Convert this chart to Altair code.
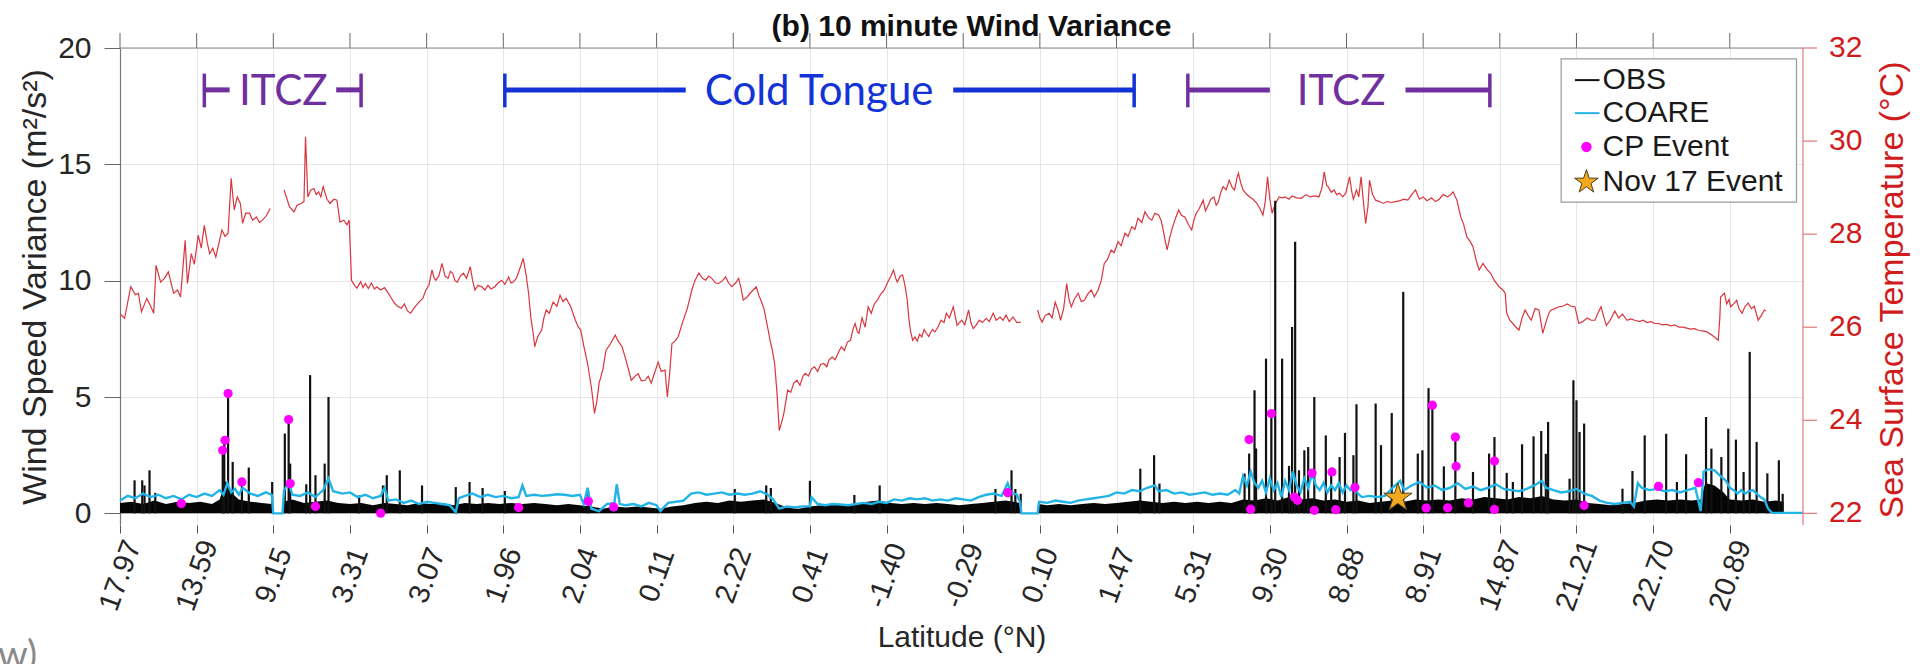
import json
import altair as alt
import pandas as pd

# ---------------------------------------------------------------------------
# Along-track position is expressed in "tick units": one unit per labelled tick.
# ---------------------------------------------------------------------------
lat_labels = ["17.97", "13.59", "9.15", "3.31", "3.07", "1.96", "2.04", "0.11",
              "2.22", "0.41", "-1.40", "-0.29", "0.10", "1.47", "5.31", "9.30",
              "8.88", "8.91", "14.87", "21.21", "22.70", "20.89"]
x_max = 21.955

# Sea surface temperature (°C); breaks mark data gaps
sst_x = [0.00, 0.06, 0.14, 0.20, 0.24, 0.28, 0.35, 0.40, 0.44, 0.47, 0.53, 0.58, 0.63, 0.70, 0.75, 0.79,
         0.85, 0.88, 0.93, 0.97, 1.02, 1.06, 1.10, 1.14, 1.17, 1.21, 1.25, 1.29, 1.33, 1.37, 1.41, 1.45,
         1.49, 1.53, 1.57, 1.60, 1.64, 1.69, 1.73, 1.78, 1.82, 1.86, 1.91, 1.96,
         2.14, 2.18, 2.21, 2.27, 2.31, 2.36, 2.40, 2.42, 2.45, 2.49, 2.53, 2.56, 2.59, 2.62, 2.65, 2.70,
         2.74, 2.79, 2.83, 2.87, 2.92, 2.96, 2.99, 3.02, 3.06, 3.09, 3.14, 3.17, 3.20, 3.24, 3.28, 3.32,
         3.35, 3.40, 3.45, 3.49, 3.53, 3.58, 3.62, 3.67, 3.71, 3.75, 3.79, 3.84, 3.90, 3.95, 3.99, 4.03,
         4.07, 4.10, 4.12, 4.16, 4.20, 4.24, 4.28, 4.31, 4.34, 4.37, 4.40, 4.44, 4.48, 4.52, 4.57, 4.60,
         4.63, 4.67, 4.72, 4.76, 4.80, 4.84, 4.89, 4.93, 4.98, 5.02, 5.07, 5.10, 5.13, 5.17, 5.21, 5.26,
         5.30, 5.33, 5.36, 5.39, 5.41, 5.45, 5.50, 5.53, 5.56, 5.60, 5.65, 5.70, 5.74, 5.78, 5.82, 5.88,
         5.94, 5.98, 6.01, 6.05, 6.10, 6.15, 6.19, 6.22, 6.25, 6.30, 6.34, 6.40, 6.46, 6.50, 6.55, 6.60,
         6.67, 6.72, 6.76, 6.80, 6.85, 6.89, 6.93, 6.97, 7.02, 7.06, 7.11, 7.14, 7.17, 7.20, 7.24, 7.28,
         7.34, 7.40, 7.46, 7.50, 7.55, 7.60, 7.64, 7.68, 7.72, 7.77, 7.81, 7.86, 7.90, 7.94, 7.98, 8.03,
         8.07, 8.10, 8.13, 8.18, 8.22, 8.26, 8.30, 8.33, 8.36, 8.40, 8.43, 8.46, 8.48, 8.51, 8.54, 8.57,
         8.60, 8.63, 8.66, 8.69, 8.71, 8.75, 8.79, 8.83, 8.87, 8.91, 8.94, 8.98, 9.02, 9.06, 9.10, 9.14,
         9.18, 9.22, 9.25, 9.29, 9.33, 9.37, 9.41, 9.45, 9.49, 9.53, 9.56, 9.59, 9.62, 9.64, 9.68, 9.72,
         9.76, 9.80, 9.84, 9.88, 9.92, 9.97, 10.01, 10.05, 10.09, 10.12, 10.14, 10.18, 10.21, 10.24, 10.27, 10.29,
         10.31, 10.34, 10.37, 10.40, 10.43, 10.46, 10.49, 10.52, 10.55, 10.57, 10.60, 10.63, 10.67, 10.71, 10.75, 10.78,
         10.82, 10.87, 10.90, 10.92, 10.95, 10.98, 11.02, 11.07, 11.10, 11.13, 11.17, 11.21, 11.25, 11.30, 11.34, 11.39,
         11.43, 11.48, 11.52, 11.56, 11.60, 11.65, 11.70, 11.75,
         11.97, 12.00, 12.03, 12.07, 12.12, 12.16, 12.20, 12.24, 12.27, 12.31, 12.35, 12.38, 12.41, 12.45, 12.50, 12.54,
         12.58, 12.62, 12.67, 12.71, 12.76, 12.80, 12.84, 12.88, 12.93, 12.97, 13.02, 13.06, 13.11, 13.15, 13.20, 13.24,
         13.28, 13.33, 13.37, 13.42, 13.46, 13.50, 13.55, 13.58, 13.60, 13.63, 13.66, 13.69, 13.72, 13.76, 13.81, 13.85,
         13.89, 13.94, 13.98, 14.01, 14.04, 14.08, 14.13, 14.16, 14.19, 14.23, 14.27, 14.30, 14.33, 14.36, 14.39, 14.43,
         14.47, 14.51, 14.54, 14.57, 14.59, 14.62, 14.65, 14.70, 14.74, 14.78, 14.83, 14.87, 14.91, 14.94, 14.97, 15.00,
         15.03, 15.07, 15.12, 15.16, 15.20, 15.25, 15.29, 15.35, 15.41, 15.47, 15.53, 15.59, 15.64, 15.68, 15.71, 15.74,
         15.76, 15.80, 15.84, 15.87, 15.91, 15.95, 15.99, 16.04, 16.07, 16.09, 16.13, 16.16, 16.19, 16.22, 16.25, 16.28,
         16.30, 16.34, 16.38, 16.43, 16.48, 16.53, 16.58, 16.64, 16.70, 16.75, 16.80, 16.85, 16.90, 16.95, 17.00, 17.05,
         17.11, 17.16, 17.21, 17.26, 17.32, 17.36, 17.39, 17.44, 17.49, 17.53, 17.57, 17.61, 17.65, 17.69, 17.73, 17.78,
         17.83, 17.88, 17.93, 17.99, 18.04, 18.07, 18.09, 18.13, 18.17, 18.21, 18.25, 18.29, 18.33, 18.37, 18.41, 18.46,
         18.51, 18.56, 18.60, 18.64, 18.67, 18.72, 18.77, 18.82, 18.88, 18.93, 18.98, 19.03, 19.08, 19.14, 19.19, 19.24,
         19.28, 19.32, 19.36, 19.39, 19.44, 19.50, 19.55, 19.60, 19.66, 19.71, 19.76, 19.82, 19.87, 19.92, 19.97, 20.02,
         20.07, 20.12, 20.18, 20.23, 20.28, 20.34, 20.39, 20.44, 20.49, 20.54, 20.60, 20.65, 20.70, 20.75, 20.80, 20.85,
         20.87, 20.88, 20.91, 20.93, 20.96, 20.99, 21.01, 21.05, 21.09, 21.12, 21.16, 21.20, 21.24, 21.28, 21.32, 21.37,
         21.41, 21.45, 21.47]
sst_t = [26.29, 26.19, 26.87, 26.70, 26.73, 26.33, 26.62, 26.45, 26.30, 27.33, 26.97, 27.05, 27.19, 26.73, 26.80, 26.65,
         27.87, 26.94, 27.58, 27.35, 27.98, 27.70, 28.19, 27.80, 27.58, 27.70, 27.51, 27.80, 28.09, 27.95, 28.02, 29.20,
         28.52, 28.80, 28.66, 28.23, 28.45, 28.45, 28.30, 28.37, 28.25, 28.30, 28.40, 28.55,
         28.95, 28.75, 28.59, 28.48, 28.62, 28.66, 28.70, 30.09, 28.80, 28.95, 28.98, 28.85, 28.91, 28.80, 29.02, 28.75,
         28.66, 28.75, 28.73, 28.26, 28.30, 28.20, 28.30, 27.01, 26.90, 26.84, 26.98, 26.85, 26.94, 26.83, 26.95, 26.82,
         26.87, 26.80, 26.85, 26.76, 26.65, 26.52, 26.45, 26.41, 26.50, 26.35, 26.30, 26.42, 26.54, 26.62, 26.80, 26.90,
         27.23, 27.05, 27.01, 27.10, 27.37, 27.10, 27.05, 27.20, 27.16, 27.00, 26.97, 27.10, 27.16, 27.05, 27.30, 27.00,
         26.80, 26.90, 26.87, 26.80, 26.90, 26.82, 26.87, 26.95, 27.01, 26.92, 27.08, 26.95, 26.97, 27.05, 27.23, 27.48,
         27.10, 26.73, 26.20, 25.87, 25.58, 25.80, 25.94, 26.20, 26.37, 26.30, 26.54, 26.45, 26.69, 26.55, 26.62, 26.44,
         26.15, 26.00, 25.94, 25.60, 25.22, 24.70, 24.15, 24.40, 24.80, 25.10, 25.50, 25.65, 25.83, 25.70, 25.58, 25.30,
         24.86, 24.95, 25.00, 24.85, 24.86, 24.95, 24.80, 25.00, 25.25, 25.05, 25.08, 24.50, 25.00, 25.65, 25.70, 25.79,
         26.11, 26.40, 26.80, 27.00, 27.16, 27.05, 27.01, 27.10, 27.05, 26.95, 26.94, 27.00, 27.08, 26.95, 26.87, 26.95,
         27.05, 26.85, 26.58, 26.65, 26.73, 26.80, 26.87, 26.70, 26.58, 26.40, 26.15, 25.90, 25.72, 25.50, 25.22, 24.60,
         23.78, 23.95, 24.15, 24.45, 24.65, 24.60, 24.80, 24.86, 24.75, 24.95, 25.01, 24.95, 25.10, 25.15, 25.05, 25.20,
         25.22, 25.15, 25.30, 25.36, 25.30, 25.45, 25.58, 25.50, 25.68, 25.72, 25.95, 26.08, 25.90, 25.87, 26.20, 26.00,
         26.44, 26.30, 26.50, 26.58, 26.70, 26.80, 26.95, 27.08, 27.23, 27.05, 26.97, 27.10, 27.12, 26.90, 26.58, 26.20,
         25.94, 25.72, 25.79, 25.70, 25.85, 25.79, 25.95, 25.87, 25.80, 25.87, 25.95, 25.90, 26.00, 26.15, 26.10, 26.30,
         26.20, 26.44, 26.20, 26.04, 26.10, 26.15, 26.05, 26.37, 26.10, 25.97, 26.05, 26.15, 26.10, 26.19, 26.12, 26.30,
         26.15, 26.22, 26.15, 26.26, 26.12, 26.22, 26.10, 26.11,
         26.37, 26.20, 26.11, 26.25, 26.30, 26.20, 26.54, 26.35, 26.15, 26.40, 26.94, 26.60, 26.44, 26.60, 26.73, 26.55,
         26.58, 26.70, 26.80, 26.65, 26.80, 27.00, 27.37, 27.45, 27.66, 27.60, 27.84, 27.75, 28.02, 27.95, 28.16, 28.10,
         28.34, 28.25, 28.48, 28.35, 28.30, 28.45, 28.41, 28.30, 28.16, 27.90, 27.66, 27.90, 28.09, 28.30, 28.52, 28.40,
         28.37, 28.20, 28.09, 28.30, 28.45, 28.55, 28.73, 28.50, 28.60, 28.75, 28.80, 28.62, 28.70, 28.90, 29.02, 28.95,
         29.16, 29.00, 28.95, 29.20, 29.31, 29.10, 28.95, 28.85, 28.80, 28.75, 28.66, 28.55, 28.41, 28.70, 29.23, 28.75,
         28.45, 28.65, 28.80, 28.78, 28.80, 28.75, 28.82, 28.78, 28.77, 28.85, 28.80, 28.82, 28.80, 29.00, 29.34, 29.05,
         29.02, 28.90, 28.95, 28.85, 28.88, 28.80, 28.88, 29.23, 28.90, 28.75, 28.95, 28.80, 29.23, 28.70, 28.23, 28.60,
         29.16, 28.85, 28.73, 28.70, 28.66, 28.70, 28.68, 28.70, 28.72, 28.75, 28.73, 28.85, 28.95, 28.75, 28.80, 28.72,
         28.78, 28.70, 28.75, 28.85, 28.80, 28.85, 28.91, 28.73, 28.37, 28.20, 27.94, 27.85, 27.73, 27.45, 27.23, 27.37,
         27.25, 27.16, 27.00, 26.87, 26.80, 26.73, 26.30, 26.15, 26.08, 26.00, 25.94, 26.20, 26.37, 26.25, 26.15, 26.40,
         26.37, 25.87, 26.10, 26.30, 26.37, 26.40, 26.44, 26.45, 26.50, 26.45, 26.44, 26.08, 26.12, 26.20, 26.15, 26.15,
         26.30, 26.44, 26.20, 26.04, 26.15, 26.35, 26.20, 26.28, 26.15, 26.18, 26.15, 26.12, 26.15, 26.10, 26.12, 26.08,
         26.08, 26.05, 26.06, 26.03, 26.05, 26.00, 26.00, 25.98, 25.96, 25.97, 25.93, 25.92, 25.90, 25.85, 25.79, 25.72,
         26.20, 26.65, 26.70, 26.73, 26.50, 26.60, 26.44, 26.50, 26.58, 26.40, 26.30, 26.45, 26.52, 26.40, 26.45, 26.15,
         26.25, 26.37, 26.35]
data_breaks = [2.05, 11.85]

# OBS: upper edge of the dense low-variance band (m^2/s^2)
obs_x = [0.00, 0.15, 0.30, 0.45, 0.60, 0.75, 0.90, 1.05, 1.20, 1.30, 1.38, 1.45, 1.55, 1.70, 1.85, 1.98,
         2.13, 2.25, 2.40, 2.55, 2.70, 2.85, 3.00, 3.15, 3.30, 3.45, 3.60, 3.75, 3.90, 4.05, 4.20, 4.35,
         4.50, 4.65, 4.80, 4.95, 5.10, 5.25, 5.40, 5.55, 5.70, 5.85, 6.00, 6.15, 6.30, 6.45, 6.60, 6.75,
         6.90, 7.05, 7.20, 7.35, 7.50, 7.65, 7.80, 7.95, 8.10, 8.25, 8.40, 8.55, 8.70, 8.85, 9.00, 9.15,
         9.30, 9.45, 9.60, 9.75, 9.90, 10.05, 10.20, 10.35, 10.50, 10.65, 10.80, 10.95, 11.10, 11.25, 11.40, 11.55,
         11.74, 11.98, 12.10, 12.25, 12.40, 12.55, 12.70, 12.85, 13.00, 13.15, 13.30, 13.45, 13.60, 13.75, 13.90, 14.05,
         14.20, 14.35, 14.50, 14.65, 14.80, 14.95, 15.10, 15.25, 15.40, 15.55, 15.70, 15.85, 16.00, 16.15, 16.30, 16.45,
         16.60, 16.75, 16.90, 17.05, 17.20, 17.35, 17.50, 17.65, 17.80, 17.95, 18.10, 18.25, 18.40, 18.55, 18.70, 18.85,
         19.00, 19.15, 19.30, 19.45, 19.60, 19.75, 19.90, 20.05, 20.20, 20.35, 20.50, 20.62, 20.68, 20.80, 20.92, 21.00,
         21.15, 21.30, 21.45, 21.60, 21.70]
obs_top = [0.45, 0.50, 0.40, 0.55, 0.40, 0.50, 0.45, 0.50, 0.40, 0.60, 1.40, 0.90, 0.60, 0.50, 0.45, 0.40,
           0.50, 0.60, 0.45, 0.50, 0.55, 0.45, 0.40, 0.45, 0.35, 0.45, 0.40, 0.35, 0.45, 0.40, 0.45, 0.35,
           0.45, 0.40, 0.45, 0.40, 0.45, 0.40, 0.45, 0.40, 0.35, 0.40, 0.35, 0.30, 0.20, 0.30, 0.25, 0.30,
           0.25, 0.20, 0.30, 0.35, 0.45, 0.50, 0.45, 0.55, 0.50, 0.55, 0.60, 0.45, 0.25, 0.20, 0.30, 0.35,
           0.40, 0.35, 0.40, 0.50, 0.55, 0.45, 0.40, 0.45, 0.40, 0.45, 0.40, 0.35, 0.40, 0.45, 0.50, 0.55,
           0.45, 0.40, 0.35, 0.40, 0.35, 0.40, 0.45, 0.40, 0.45, 0.50, 0.55, 0.50, 0.45, 0.50, 0.45, 0.50,
           0.45, 0.50, 0.45, 0.60, 0.55, 0.65, 0.55, 0.70, 0.60, 0.65, 0.55, 0.60, 0.50, 0.55, 0.45, 0.50,
           0.55, 0.50, 0.60, 0.55, 0.60, 0.55, 0.65, 0.60, 0.70, 0.65, 0.60, 0.70, 0.65, 0.75, 0.60, 0.55,
           0.60, 0.45, 0.40, 0.35, 0.40, 0.45, 0.55, 0.60, 0.55, 0.60, 0.55, 0.60, 1.30, 1.20, 0.90, 0.60,
           0.55, 0.60, 0.50, 0.55, 0.50]

# OBS: individual high-variance peaks
spike_x = [0.19, 0.29, 0.32, 0.385, 0.46, 1.34, 1.36, 1.41, 1.47, 1.59, 1.68, 1.985, 2.15, 2.20, 2.22, 2.43,
           2.48, 2.55, 2.67, 2.72, 3.12, 3.43, 3.48, 3.65, 3.94, 4.38, 4.56, 4.73, 5.02, 6.11, 8.02, 8.43,
           8.49, 9.00, 9.58, 9.91, 11.42, 11.63, 11.68, 11.75, 13.31, 13.49, 13.56, 14.67, 14.73, 14.80,
           14.82, 14.95, 15.02, 15.07, 15.16, 15.25, 15.29, 15.33, 15.38, 15.45, 15.50, 15.58, 15.73, 15.80,
           15.91, 15.98, 16.09, 16.13, 16.38, 16.45, 16.59, 16.74, 16.93, 16.99, 17.07, 17.12, 17.27, 17.42,
           17.65, 17.86, 17.93, 18.09, 18.17, 18.29, 18.44, 18.54, 18.60, 18.63, 18.91, 18.96, 19.00, 19.04,
           19.10, 19.60, 19.73, 19.89, 20.17, 20.31, 20.43, 20.69, 20.76, 20.89, 20.98, 21.08, 21.18, 21.26,
           21.35, 21.49, 21.64, 21.69]
spike_v = [1.42, 1.42, 1.20, 1.85, 0.88, 2.71, 3.14, 5.15, 2.21, 1.35, 1.97, 1.35, 3.43, 4.03, 2.14, 1.25,
           5.94, 1.64, 2.14, 5.00, 0.77, 1.20, 1.64, 1.85, 1.20, 1.13, 1.35, 1.09, 0.96, 0.90, 1.05, 1.20,
           1.09, 1.40, 0.79, 1.20, 1.05, 1.85, 1.05, 0.84, 1.92, 2.50, 1.28, 1.71, 2.57, 5.29,
           2.79, 6.65, 4.29, 13.43, 6.65, 2.04, 8.01, 11.67, 1.85, 2.71, 2.85, 5.00, 3.35, 1.78,
           2.42, 3.46, 2.50, 4.69, 4.72, 2.93, 4.31, 9.52, 2.57, 2.71, 5.38, 4.65, 2.02, 3.28,
           1.78, 2.57, 3.28, 1.74, 1.35, 2.97, 3.31, 3.54, 2.56, 3.93, 1.49, 5.72, 4.86, 3.50,
           3.86, 1.06, 1.82, 3.35, 3.42, 1.35, 2.54, 4.14, 2.78, 2.42, 3.64, 3.17, 1.78, 6.94,
           3.07, 1.72, 2.28, 0.84]

# COARE model variance (m^2/s^2)
coare_x = [0.00, 0.10, 0.20, 0.30, 0.40, 0.50, 0.60, 0.70, 0.80, 0.90, 1.00, 1.10, 1.20, 1.30, 1.35, 1.40,
           1.45, 1.50, 1.55, 1.60, 1.70, 1.80, 1.90, 1.98, 2.00, 2.12, 2.14, 2.20, 2.25, 2.35, 2.45, 2.55,
           2.65, 2.72, 2.78, 2.90, 3.00, 3.10, 3.20, 3.30, 3.40, 3.45, 3.50, 3.60, 3.70, 3.80, 3.90, 4.00,
           4.10, 4.20, 4.30, 4.38, 4.42, 4.50, 4.60, 4.70, 4.80, 4.90, 5.00, 5.10, 5.20, 5.25, 5.30, 5.40,
           5.50, 5.60, 5.70, 5.80, 5.90, 6.00, 6.05, 6.10, 6.15, 6.25, 6.35, 6.45, 6.48, 6.52, 6.60, 6.70,
           6.80, 6.90, 7.00, 7.05, 7.15, 7.25, 7.35, 7.45, 7.55, 7.65, 7.75, 7.85, 7.95, 8.05, 8.15, 8.25,
           8.35, 8.45, 8.52, 8.60, 8.70, 8.80, 8.90, 9.00, 9.02, 9.10, 9.20, 9.30, 9.40, 9.50, 9.60, 9.70,
           9.80, 9.90, 10.00, 10.10, 10.20, 10.30, 10.40, 10.50, 10.60, 10.70, 10.80, 10.90, 11.00, 11.10, 11.20, 11.30,
           11.40, 11.50, 11.58, 11.62, 11.70, 11.74, 11.76, 11.97, 11.99, 12.10, 12.20, 12.30, 12.40, 12.50, 12.60, 12.70,
           12.80, 12.90, 13.00, 13.10, 13.20, 13.30, 13.40, 13.50, 13.55, 13.65, 13.75, 13.85, 13.95, 14.05, 14.15, 14.25,
           14.35, 14.45, 14.55, 14.60, 14.65, 14.70, 14.75, 14.80, 14.85, 14.90, 14.95, 15.00, 15.05, 15.10, 15.15, 15.20,
           15.25, 15.30, 15.35, 15.40, 15.45, 15.50, 15.55, 15.60, 15.65, 15.70, 15.75, 15.80, 15.85, 15.90, 15.95, 16.00,
           16.05, 16.10, 16.15, 16.20, 16.30, 16.40, 16.50, 16.60, 16.70, 16.75, 16.85, 16.95, 17.05, 17.15, 17.25, 17.35,
           17.45, 17.55, 17.65, 17.75, 17.85, 17.95, 18.05, 18.15, 18.25, 18.35, 18.45, 18.55, 18.60, 18.70, 18.80, 18.90,
           19.00, 19.10, 19.20, 19.30, 19.40, 19.50, 19.60, 19.70, 19.75, 19.80, 19.85, 19.95, 20.05, 20.15, 20.25, 20.35,
           20.45, 20.55, 20.62, 20.66, 20.72, 20.80, 20.88, 20.95, 21.00, 21.05, 21.10, 21.15, 21.20, 21.25, 21.30, 21.35,
           21.40, 21.45, 21.50, 21.55, 21.955]
coare_v = [0.55, 0.75, 0.65, 0.85, 0.70, 0.80, 0.65, 0.75, 0.60, 0.80, 0.70, 0.85, 0.75, 1.00, 0.80, 1.30,
           0.90, 1.05, 0.80, 1.10, 0.85, 0.75, 0.90, 0.80, 0.00, 0.00, 1.00, 1.30, 0.80, 0.75, 0.90, 0.70,
           1.00, 1.50, 0.95, 0.85, 0.90, 0.70, 0.80, 0.65, 0.75, 1.10, 0.55, 0.60, 0.45, 0.55, 0.40, 0.50,
           0.45, 0.40, 0.35, 0.05, 0.65, 0.75, 0.85, 0.70, 0.80, 0.70, 0.75, 0.65, 0.70, 1.20, 0.75, 0.80,
           0.75, 0.78, 0.82, 0.80, 0.75, 0.80, 0.40, 1.10, 0.20, 0.10, 0.40, 0.45, 1.25, 0.40, 0.35, 0.40,
           0.30, 0.45, 0.35, 0.10, 0.45, 0.50, 0.55, 0.85, 0.90, 0.80, 0.85, 0.90, 0.80, 0.85, 0.80, 0.85,
           0.95, 0.80, 0.60, 0.20, 0.30, 0.25, 0.30, 0.30, 0.70, 0.40, 0.35, 0.40, 0.38, 0.35, 0.40, 0.45,
           0.40, 0.50, 0.45, 0.60, 0.55, 0.65, 0.60, 0.65, 0.55, 0.60, 0.55, 0.65, 0.60, 0.55, 0.70, 0.80,
           0.85, 0.75, 1.30, 0.90, 0.80, 0.50, 0.00, 0.00, 0.50, 0.45, 0.55, 0.50, 0.45, 0.55, 0.60, 0.65,
           0.70, 0.75, 0.90, 0.85, 1.00, 0.95, 1.10, 1.20, 0.95, 1.00, 0.85, 0.90, 0.80, 0.85, 0.90, 0.80,
           0.85, 0.80, 1.00, 0.85, 1.60, 1.20, 1.80, 1.30, 1.10, 1.40, 0.90, 1.50, 1.00, 1.30, 0.70, 1.40,
           1.00, 1.80, 1.20, 0.90, 1.50, 1.10, 1.70, 1.20, 1.00, 1.30, 0.90, 1.20, 1.00, 1.30, 0.90, 1.20,
           1.00, 1.10, 0.85, 0.70, 0.75, 0.70, 0.75, 1.10, 1.40, 1.00, 1.20, 1.35, 1.10, 1.20, 1.00, 1.10,
           1.30, 1.05, 1.15, 1.00, 1.10, 1.25, 1.05, 1.00, 0.95, 1.05, 1.20, 1.40, 1.10, 1.00, 0.90, 0.95,
           1.05, 0.85, 0.75, 0.55, 0.45, 0.40, 0.45, 0.50, 0.30, 1.30, 1.10, 1.00, 1.05, 0.95, 1.00, 0.90,
           1.00, 1.10, 0.10, 1.80, 1.90, 1.85, 1.60, 1.40, 1.10, 1.00, 0.85, 1.00, 0.85, 0.95, 1.00, 0.85,
           0.70, 0.60, 0.20, 0.02, 0.02]

# Cold-pool events
cp_x = [0.80, 1.34, 1.37, 1.41, 1.59, 2.20, 2.22, 2.55, 3.40, 5.20, 6.11, 6.44, 11.58, 14.73, 14.75, 15.02,
        15.32, 15.36, 15.55, 15.58, 15.81, 15.86, 16.11, 17.04, 17.12, 17.32, 17.42, 17.43, 17.59, 17.93, 17.93,
        19.10, 20.07, 20.59]
cp_v = [0.42, 2.71, 3.14, 5.15, 1.35, 4.03, 1.28, 0.30, 0.01, 0.25, 0.52, 0.27, 0.89, 3.17, 0.18, 4.29,
        0.70, 0.56, 1.73, 0.13, 1.78, 0.16, 1.11, 0.23, 4.65, 0.24, 3.28, 2.02, 0.45, 2.25, 0.17,
        0.34, 1.16, 1.32]

# 17 November event
nov17_x = [16.67]
nov17_v = [0.67]

# Regime annotations (along-track extents)
regime_names = ["ITCZ", "Cold Tongue", "ITCZ"]
regime_start = [1.10, 5.02, 13.93]
regime_end = [3.145, 13.23, 17.87]
regime_label_x = [2.13, 9.12, 15.93]
regime_gap = [(1.43, 2.82), (7.38, 10.87), (15.00, 16.77)]
regime_colors = ["#7030a0", "#1433d6", "#7030a0"]

# Right-hand temperature axis
sst_ticks = [22, 24, 26, 28, 30, 32]

# ---------------------------------------------------------------------------
W, H = 1683, 477
PX = x_max / W            # tick units per pixel
PY = 20.5 / H             # variance units per pixel
FONT = "Liberation Sans"
INK = "#262626"
RED = "#d01c1c"
# five-pointed star in the unit box used by Vega symbol paths
STAR = ("M0,-1L0.2245,-0.309L0.9511,-0.309L0.3633,0.118L0.5878,0.809L0,0.382"
        "L-0.5878,0.809L-0.3633,0.118L-0.9511,-0.309L-0.2245,-0.309Z")


def seg_of(x):
    return sum(1 for b in data_breaks if x > b)


def to_var(t):
    # SST axis 22..32 °C shares the frame with variance 0..20
    return (t - 22.0) * 2.0


sst_df = pd.DataFrame({"x": sst_x, "t": sst_t})
sst_df["seg"] = sst_df["x"].map(seg_of)
obs_df = pd.DataFrame({"x": obs_x, "v": obs_top, "base": 0.0})
obs_df["seg"] = obs_df["x"].map(seg_of)
spike_df = pd.DataFrame({"x": spike_x, "v": spike_v, "base": 0.0})
coare_df = pd.DataFrame({"x": coare_x, "v": coare_v})
cp_df = pd.DataFrame({"x": cp_x, "v": cp_v})
star_df = pd.DataFrame({"x": nov17_x, "v": nov17_v})
tick_df = pd.DataFrame({"x": list(range(len(lat_labels))), "v": 20.0, "v2": 20.0 + 15 * PY})

bar_rows, cap_rows, label_rows = [], [], []
for name, s, e, lx, (g1, g2), col in zip(regime_names, regime_start, regime_end,
                                         regime_label_x, regime_gap, regime_colors):
    bar_rows += [{"x": s, "x2": g1, "v": 18.2, "c": col}, {"x": g2, "x2": e, "v": 18.2, "c": col}]
    cap_rows += [{"x": s, "v": 17.45, "v2": 18.9, "c": col}, {"x": e, "v": 17.45, "v2": 18.9, "c": col}]
    label_rows.append({"x": lx, "v": 18.1, "name": name, "c": col})
bars_df = pd.DataFrame(bar_rows)
caps_df = pd.DataFrame(cap_rows)
labels_df = pd.DataFrame(label_rows)

rt_df = pd.DataFrame({"t": sst_ticks})
rt_df["v"] = rt_df["t"].map(to_var)
rt_df["x"] = x_max
rt_df["x2"] = x_max + 14 * PX
rt_df["xl"] = x_max + 26 * PX
rt_df["label"] = rt_df["t"].map(str)

label_expr = json.dumps(lat_labels) + "[datum.value]"

x_scale = alt.Scale(domain=[0, x_max], nice=False, zero=False)
y_scale = alt.Scale(domain=[-0.5, 20], nice=False, zero=False)

x_enc = alt.X(
    "x:Q", scale=x_scale,
    axis=alt.Axis(
        values=list(range(len(lat_labels))), labelExpr=label_expr,
        title="Latitude (°N)", titleFont=FONT, titleFontSize=30, titleFontWeight="normal",
        titleColor=INK, titlePadding=8,
        labelFont=FONT, labelFontSize=29, labelColor=INK, labelAngle=290,
        labelAlign="center", labelBaseline="middle", labelPadding=42, labelOverlap=False,
        tickSize=8, tickColor="#555555", domain=False,
        grid=True, gridColor="#e6e6e6", gridWidth=1,
    ),
)
y_enc = alt.Y(
    "v:Q", scale=y_scale,
    axis=alt.Axis(
        values=[0, 5, 10, 15, 20], title="Wind Speed Variance (m²/s²)",
        titleFont=FONT, titleFontSize=34, titleFontWeight="normal", titleColor=INK,
        titlePadding=5, labelFont=FONT, labelFontSize=30, labelColor=INK, labelPadding=13,
        tickSize=16, tickColor="#666666", domainColor="#777777", domainWidth=1.2,
        grid=True, gridColor="#e6e6e6", gridWidth=1,
    ),
)

layers = []

# SST on the shared frame
layers.append(
    alt.Chart(sst_df).transform_calculate(v="(datum.t - 22) * 2")
    .mark_line(color="#d9363e", strokeWidth=1.2)
    .encode(x=x_enc, y=y_enc, detail="seg:N")
)
# OBS: dense band + peaks
layers.append(alt.Chart(obs_df).mark_area(color="#050505", opacity=1).encode(
    x="x:Q", y="v:Q", y2="base:Q", detail="seg:N"))
layers.append(alt.Chart(spike_df).mark_rule(color="#111111", strokeWidth=2.2).encode(
    x="x:Q", y="base:Q", y2="v:Q"))
layers.append(alt.Chart(coare_df).mark_line(color="#22b4e6", strokeWidth=2.4).encode(
    x="x:Q", y="v:Q"))
layers.append(alt.Chart(cp_df).mark_point(filled=True, color="#ff00ff", size=85, opacity=1).encode(
    x="x:Q", y="v:Q"))
layers.append(alt.Chart(star_df).mark_point(
    shape=STAR, filled=True, color="#f2a81c", stroke="#4a3f1f", strokeWidth=1,
    size=880, opacity=1).encode(x="x:Q", y="v:Q"))

# regime brackets at the top of the panel
layers.append(alt.Chart(bars_df).mark_rule(strokeWidth=5).encode(
    x="x:Q", x2="x2:Q", y="v:Q", color=alt.Color("c:N", scale=None)))
layers.append(alt.Chart(caps_df).mark_rule(strokeWidth=3.5).encode(
    x="x:Q", y="v:Q", y2="v2:Q", color=alt.Color("c:N", scale=None)))
layers.append(alt.Chart(labels_df).mark_text(font="Lato", fontSize=42, baseline="middle").encode(
    x="x:Q", y="v:Q", text="name:N", color=alt.Color("c:N", scale=None)))

# top frame with outward ticks
layers.append(alt.Chart(tick_df).mark_rule(color="#666666", strokeWidth=1).encode(
    x="x:Q", y="v:Q", y2="v2:Q"))
frame_df = pd.DataFrame({"x": [0.0], "x2": [x_max], "v": [20.0]})
layers.append(alt.Chart(frame_df).mark_rule(color="#888888", strokeWidth=1.2).encode(
    x="x:Q", x2="x2:Q", y="v:Q"))

# panel title
title_df = pd.DataFrame({"x": [x_max / 2 + 10 * PX], "v": [20.0 + 21 * PY],
                         "s": ["(b) 10 minute Wind Variance"]})
layers.append(alt.Chart(title_df).mark_text(
    font=FONT, fontSize=30, fontWeight="bold", color="#111111", align="center", baseline="middle"
).encode(x="x:Q", y="v:Q", text="s:N"))

# right-hand SST axis
raxis_df = pd.DataFrame({"x": [x_max], "v": [-0.5], "v2": [20.0]})
layers.append(alt.Chart(raxis_df).mark_rule(color="#e07a7a", strokeWidth=1.2).encode(
    x="x:Q", y="v:Q", y2="v2:Q"))
layers.append(alt.Chart(rt_df).mark_rule(color="#e07a7a", strokeWidth=1.2).encode(
    x="x:Q", x2="x2:Q", y="v:Q"))
layers.append(alt.Chart(rt_df).mark_text(
    font=FONT, fontSize=30, color=RED, align="left", baseline="middle").encode(
    x="xl:Q", y="v:Q", text="label:N"))
rtitle_df = pd.DataFrame({"x": [x_max + 90 * PX], "v": [9.6], "label": ["Sea Surface Temperature (°C)"]})
layers.append(alt.Chart(rtitle_df).mark_text(
    font=FONT, fontSize=34, color=RED, angle=270, align="center", baseline="middle").encode(
    x="x:Q", y="v:Q", text="label:N"))

# legend box (placed in frame units)
lg_x0, lg_x1 = 18.80, 21.87
lg_y0, lg_y1 = 19.53, 13.38
leg_rows = [18.62, 17.20, 15.75, 14.24]
leg_names = ["OBS", "COARE", "CP Event", "Nov 17 Event"]
box_df = pd.DataFrame({"x": [lg_x0], "x2": [lg_x1], "v": [lg_y0], "v2": [lg_y1]})
layers.append(alt.Chart(box_df).mark_rect(fill="white", stroke="#9a9a9a", strokeWidth=1.2).encode(
    x="x:Q", x2="x2:Q", y="v:Q", y2="v2:Q"))
leg_lines = pd.DataFrame({"x": [18.98, 18.98], "x2": [19.30, 19.30], "v": leg_rows[:2],
                          "c": ["#111111", "#22b4e6"]})
layers.append(alt.Chart(leg_lines).mark_rule(strokeWidth=2).encode(
    x="x:Q", x2="x2:Q", y="v:Q", color=alt.Color("c:N", scale=None)))
layers.append(alt.Chart(pd.DataFrame({"x": [19.13], "v": [leg_rows[2]]})).mark_point(
    filled=True, color="#ff00ff", size=110, opacity=1).encode(x="x:Q", y="v:Q"))
layers.append(alt.Chart(pd.DataFrame({"x": [19.13], "v": [leg_rows[3]]})).mark_point(
    shape=STAR, filled=True, color="#f2a81c", stroke="#4a3f1f", strokeWidth=1, size=620,
    opacity=1).encode(x="x:Q", y="v:Q"))
layers.append(alt.Chart(pd.DataFrame({"x": [19.34] * 4, "v": leg_rows, "name": leg_names})).mark_text(
    font=FONT, fontSize=30, color="#1a1a1a", align="left", baseline="middle").encode(
    x="x:Q", y="v:Q", text="name:N"))

# clipped caption fragment in the lower-left corner
layers.append(alt.Chart(pd.DataFrame({"x": [-122 * PX], "v": [-0.5 - 143 * PY], "s": ["w)"]})).mark_text(
    font="Lato", fontSize=38, color="#8a8a8a", align="left", baseline="alphabetic").encode(
    x="x:Q", y="v:Q", text="s:N"))

chart = alt.layer(*layers).properties(
    width=W, height=H,
    autosize=alt.AutoSizeParams(type="none"),
    padding={"left": 120, "top": 48, "right": 123, "bottom": 139},
).configure_view(stroke=None)

chart.save("out.html", embed_options={"renderer": "svg", "actions": False})
